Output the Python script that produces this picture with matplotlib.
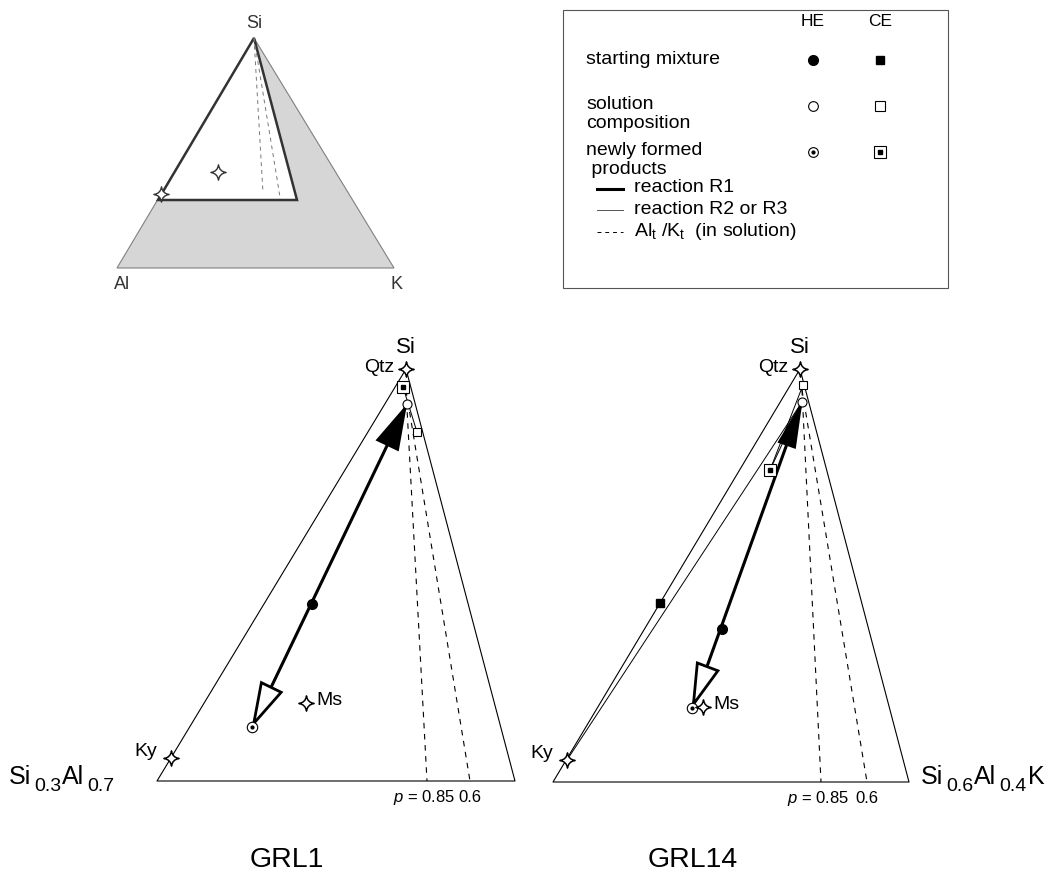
import numpy as np
import matplotlib
matplotlib.use("Agg")
import matplotlib.pyplot as plt
from matplotlib.path import Path
from matplotlib.patches import Polygon, Rectangle

plt.rcParams['font.family'] = ['Liberation Sans', 'DejaVu Sans']
plt.rcParams['mathtext.fontset'] = 'custom'
plt.rcParams['mathtext.rm'] = 'Liberation Sans'
plt.rcParams['mathtext.it'] = 'Liberation Sans:italic'
plt.rcParams['mathtext.default'] = 'regular'

# ---------------- data (diagram frame: pixel-like composition coordinates) ----------------
# overview ternary Si-Al-K
ov_outer_x = [254, 117, 394]
ov_outer_y = [38, 268, 268]
ov_inner_x = [254, 158, 297]
ov_inner_y = [38, 200, 200]
ov_dash_end_x = [263, 280]
ov_dash_end_y = [193, 197]
ov_star_x = [218, 161]
ov_star_y = [172, 194]

# GRL1 sub-triangle
g1_tri_x = [406, 157, 515]
g1_tri_y = [369, 781, 781]
g1_minerals = {'Qtz': (406, 369), 'Ky': (171, 758), 'Ms': (306, 703)}
g1_he_start = (312, 604)
g1_he_solution = (407, 404)
g1_he_product = (252, 727)
g1_ce_product = (403, 387)
g1_ce_solution = (417, 432)
g1_dash_start = (406, 390)
g1_dash_end_x = [427, 470]
g1_p_labels = ['0.85', '0.6']

# GRL14 sub-triangle
g14_tri_x = [800, 553, 909]
g14_tri_y = [369, 782, 782]
g14_minerals = {'Qtz': (800, 369), 'Ky': (567, 760), 'Ms': (703, 707)}
g14_he_start = (722, 629)
g14_he_solution = (802, 402)
g14_he_product = (692, 708)
g14_ce_start = (660, 603)
g14_ce_product = (770, 470)
g14_ce_solution = (803, 385)
g14_dash_start = (802, 390)
g14_dash_end_x = [821, 867]
g14_p_labels = ['0.85', '0.6']

legend_rows = ['starting mixture', 'solution\ncomposition', 'newly formed\n products']
legend_lines = ['reaction R1', 'reaction R2 or R3', r'Al$_{t}$ /K$_{t}$  (in solution)']
left_formula = [('Si', False), ('0.3', True), ('Al', False), ('0.7', True)]
right_formula = [('Si', False), ('0.6', True), ('Al', False), ('0.4', True), ('K', False)]

# ---------------- figure ----------------
fig = plt.figure(figsize=(10.54, 8.88), dpi=100)
ax = fig.add_axes([0, 0, 1, 1])
ax.set_xlim(0, 1054)
ax.set_ylim(888, 0)
ax.set_aspect('equal')
ax.axis('off')
renderer = fig.canvas.get_renderer()

# 4-point star marker
def star_path():
    c = 0.12
    verts = [(0, 1), (c, c), (1, 0), (c, -c), (0, -1), (-c, -c), (-1, 0), (-c, c), (0, 1), (0, 1)]
    codes = [Path.MOVETO, Path.CURVE3, Path.CURVE3, Path.CURVE3, Path.CURVE3,
             Path.CURVE3, Path.CURVE3, Path.CURVE3, Path.CURVE3, Path.CLOSEPOLY]
    return Path(verts, codes)

STAR = star_path()

def star(x, y, ms=11):
    ax.plot([x], [y], marker=STAR, ms=ms, mfc='white', mec='black', mew=1.1, zorder=8)

def arrowhead(tip, frm, length, width, filled):
    tip = np.array(tip, float); frm = np.array(frm, float)
    d = tip - frm; d /= np.linalg.norm(d)
    n = np.array([-d[1], d[0]])
    base = tip - d * length
    pts = [tip, base + n * width / 2, base - n * width / 2]
    ax.add_patch(Polygon(pts, closed=True, fc='black' if filled else 'white',
                         ec='black', lw=2.0, zorder=6, joinstyle='miter'))

def offset(p, q, dist):
    p = np.array(p, float); q = np.array(q, float)
    d = q - p; d /= np.linalg.norm(d)
    return p + d * dist

def formula(x, y, parts, size=18, subsize=14, subdrop=9, gap=3):
    cur = x
    for txt, sub in parts:
        if sub:
            t = ax.text(cur + gap, y + subdrop, txt, ha='left', va='center', fontsize=subsize)
        else:
            t = ax.text(cur, y, txt, ha='left', va='center', fontsize=size)
        bb = t.get_window_extent(renderer=renderer)
        cur = (bb.x1) + (gap - 2 if sub else 0)

# ---------------- overview ternary ----------------
ax.add_patch(Polygon(list(zip(ov_outer_x, ov_outer_y)), closed=True, fc='#d6d6d6',
                     ec='#808080', lw=0.8, zorder=1))
ax.add_patch(Polygon(list(zip(ov_inner_x, ov_inner_y)), closed=True, fc='white',
                     ec='#333333', lw=1.8, zorder=2))
for ex, ey in zip(ov_dash_end_x, ov_dash_end_y):
    ax.plot([ov_inner_x[0], ex], [ov_inner_y[0], ey], ls=(0, (4, 4)), color='#777777', lw=0.7, zorder=3)
for sx, sy in zip(ov_star_x, ov_star_y):
    ax.plot([sx], [sy], marker=STAR, ms=11, mfc='white', mec='#333333', mew=1.0, zorder=4)
ax.text(ov_outer_x[0], ov_outer_y[0] - 15, 'Si', ha='center', va='center', fontsize=13, color='#333333')
ax.text(ov_outer_x[1] + 5, ov_outer_y[1] + 16, 'Al', ha='center', va='center', fontsize=13, color='#333333')
ax.text(ov_outer_x[2] + 3, ov_outer_y[2] + 16, 'K', ha='center', va='center', fontsize=13, color='#333333')

# ---------------- legend box ----------------
ax.add_patch(Rectangle((563, 10), 385, 278, fc='white', ec='#555555', lw=0.8, zorder=1))
ax.text(813, 22, 'HE', ha='center', va='center', fontsize=12.5)
ax.text(880, 22, 'CE', ha='center', va='center', fontsize=12.5)
row_y = [60, 106, 152]
ax.text(586, row_y[0], legend_rows[0], ha='left', va='center', fontsize=14)
ax.text(586, row_y[1] + 8, legend_rows[1], ha='left', va='center', fontsize=14, linespacing=1.1)
ax.text(586, row_y[2] + 8, legend_rows[2], ha='left', va='center', fontsize=14, linespacing=1.1)
ax.plot([813], [row_y[0]], 'o', ms=7, mfc='black', mec='black')
ax.plot([880], [row_y[0]], 's', ms=6, mfc='black', mec='black')
ax.plot([813], [row_y[1]], 'o', ms=7, mfc='white', mec='black', mew=0.8)
ax.plot([880], [row_y[1]], 's', ms=6.5, mfc='white', mec='black', mew=0.8)
ax.plot([813], [row_y[2]], 'o', ms=7, mfc='white', mec='black', mew=0.8)
ax.plot([813], [row_y[2]], 'o', ms=2, mfc='black', mec='black')
ax.plot([880], [row_y[2]], 's', ms=8, mfc='white', mec='black', mew=0.8)
ax.plot([880], [row_y[2]], 's', ms=3.5, mfc='black', mec='black')
ly = [189, 210, 232]
ax.plot([597, 623], [ly[0], ly[0]], color='black', lw=2.2)
ax.plot([597, 623], [ly[1], ly[1]], color='#555555', lw=0.7)
ax.plot([597, 623], [ly[2], ly[2]], color='black', lw=0.7, ls=(0, (4, 4)))
for t, y in zip(legend_lines, ly):
    ax.text(634, y - 1, t, ha='left', va='center', fontsize=14)

# ---------------- sub-triangle drawing ----------------
def draw_panel(tri_x, tri_y, minerals, he_start, he_sol, he_prod, dash_start, dash_end_x,
               p_labels, name, name_x, w_top):
    xs = tri_x + [tri_x[0]]; ys = tri_y + [tri_y[0]]
    ax.plot(xs, ys, color='black', lw=0.8, zorder=2)
    for ex in dash_end_x:
        ax.plot([dash_start[0], ex], [dash_start[1], tri_y[1]], color='black', lw=0.8,
                ls=(0, (5, 5)), zorder=2)
    # reaction R1
    tip_top = offset(he_sol, he_start, 5)
    tip_bot = offset(he_prod, he_start, 4)
    ax.plot([tip_top[0], tip_bot[0]], [tip_top[1], tip_bot[1]], color='black', lw=2.2, zorder=5)
    arrowhead(tip_top, he_start, 40, w_top, True)
    arrowhead(tip_bot, he_start, 40, 22, False)
    ax.plot([he_start[0]], [he_start[1]], 'o', ms=7, mfc='black', mec='black', zorder=7)
    ax.plot([he_sol[0]], [he_sol[1]], 'o', ms=6.5, mfc='white', mec='black', mew=0.8, zorder=7)
    ax.plot([he_prod[0]], [he_prod[1]], 'o', ms=7.5, mfc='white', mec='black', mew=0.8, zorder=7)
    ax.plot([he_prod[0]], [he_prod[1]], 'o', ms=2, mfc='black', mec='black', zorder=8)
    # minerals
    for nm, (mx, my) in minerals.items():
        star(mx, my)
    qx, qy = minerals['Qtz']; kx, ky = minerals['Ky']; sx, sy = minerals['Ms']
    ax.text(qx - 12, qy - 2, 'Qtz', ha='right', va='center', fontsize=14)
    ax.text(kx - 14, ky - 7, 'Ky', ha='right', va='center', fontsize=14)
    ax.text(sx + 10, sy - 3, 'Ms', ha='left', va='center', fontsize=14)
    ax.text(qx, qy - 22, 'Si', ha='center', va='center', fontsize=16)
    # p labels
    ax.text(dash_end_x[0] - 3, tri_y[1] + 16, r'$\mathit{p}$ = ' + p_labels[0], ha='center',
            va='center', fontsize=12)
    ax.text(dash_end_x[1], tri_y[1] + 16, p_labels[1], ha='center', va='center', fontsize=12)
    ax.text(name_x, 860, name, ha='center', va='center', fontsize=20.5)

draw_panel(g1_tri_x, g1_tri_y, g1_minerals, g1_he_start, g1_he_solution, g1_he_product,
           g1_dash_start, g1_dash_end_x, g1_p_labels, 'GRL1', 287, 22)
draw_panel(g14_tri_x, g14_tri_y, g14_minerals, g14_he_start, g14_he_solution, g14_he_product,
           g14_dash_start, g14_dash_end_x, g14_p_labels, 'GRL14', 693, 16)
formula(9, 777, left_formula)
formula(921, 777, right_formula)

# CE symbols and R2/R3 lines, GRL1
ax.plot([g1_ce_product[0], g1_ce_solution[0]], [g1_ce_product[1], g1_ce_solution[1]],
        color='black', lw=0.7, zorder=3)
ax.plot([g1_ce_product[0]], [g1_ce_product[1]], 's', ms=8, mfc='white', mec='black', mew=0.8, zorder=8)
ax.plot([g1_ce_product[0]], [g1_ce_product[1]], 's', ms=3.5, mfc='black', mec='black', zorder=9)
ax.plot([g1_ce_solution[0]], [g1_ce_solution[1]], 's', ms=6, mfc='white', mec='black', mew=0.8, zorder=8)

# CE symbols and R2/R3 lines, GRL14
kx, ky = g14_minerals['Ky']
ax.plot([kx, g14_he_solution[0]], [ky, g14_he_solution[1]], color='black', lw=0.7, zorder=3)
ax.plot([g14_ce_product[0], g14_ce_solution[0]], [g14_ce_product[1], g14_ce_solution[1]],
        color='black', lw=0.7, zorder=3)
ax.plot([g14_ce_product[0], g14_he_solution[0]], [g14_ce_product[1], g14_he_solution[1]],
        color='black', lw=0.7, zorder=3)
ax.plot([g14_ce_start[0]], [g14_ce_start[1]], 's', ms=6, mfc='black', mec='black', zorder=8)
ax.plot([g14_ce_product[0]], [g14_ce_product[1]], 's', ms=8, mfc='white', mec='black', mew=0.8, zorder=8)
ax.plot([g14_ce_product[0]], [g14_ce_product[1]], 's', ms=3.5, mfc='black', mec='black', zorder=9)
ax.plot([g14_ce_solution[0]], [g14_ce_solution[1]], 's', ms=6, mfc='white', mec='black', mew=0.8, zorder=8)

fig.savefig('out.png', dpi=100)
